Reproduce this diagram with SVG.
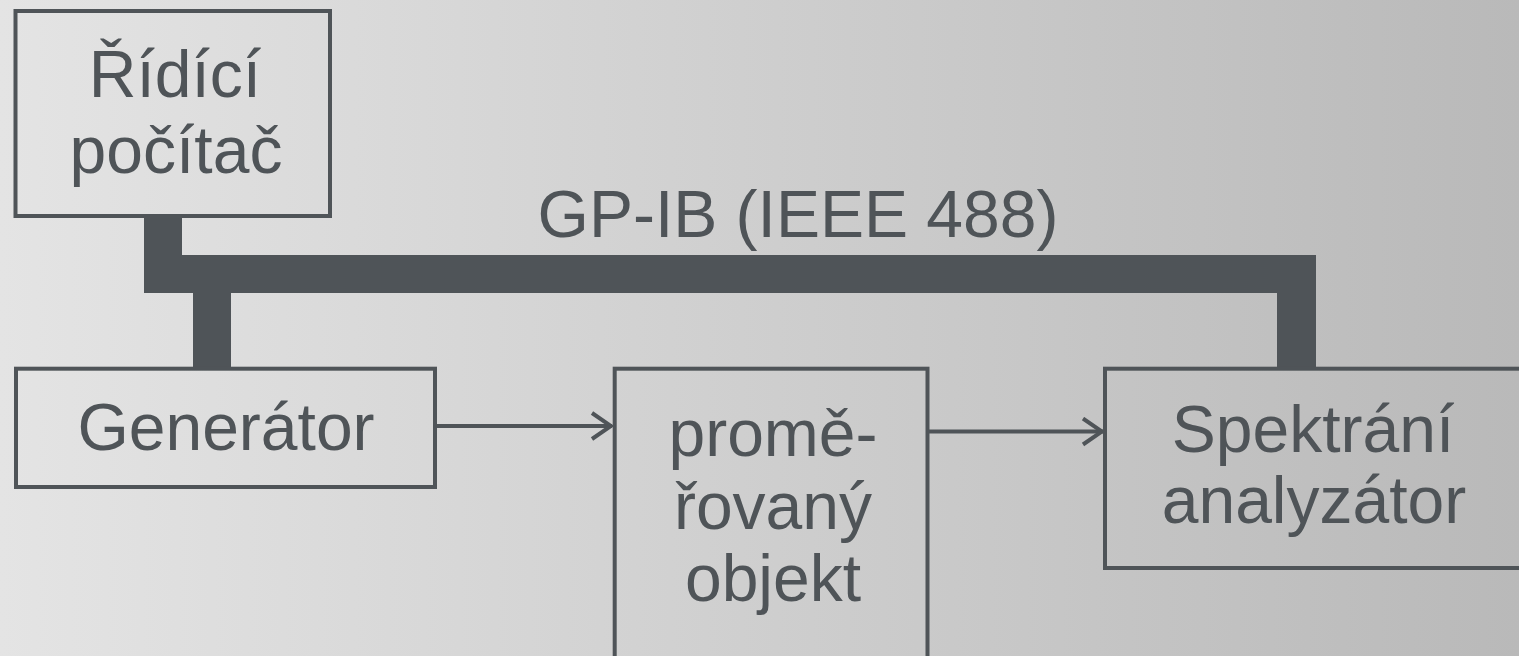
<svg xmlns="http://www.w3.org/2000/svg" width="1519" height="656" viewBox="0 0 1519 656">
  <defs>
    <linearGradient id="bg" x1="0" y1="0" x2="1" y2="0">
      <stop offset="0" stop-color="#e4e4e4"/>
      <stop offset="1" stop-color="#b9b9b9"/>
    </linearGradient>
    <marker id="arr" viewBox="0 0 24 30" refX="22" refY="15" markerWidth="24" markerHeight="30" markerUnits="userSpaceOnUse" orient="auto">
      <polyline points="2,2 21,15 2,28" fill="none" stroke="#4f5458" stroke-width="4"/>
    </marker>
    <style>
      .box { fill: none; stroke: #4f5458; stroke-width: 4; }
      .lbl { font-family: "Liberation Sans", Arial, sans-serif; font-size: 66px; fill: #4f5458; text-anchor: middle; }
      .wire { stroke: #4f5458; stroke-width: 4; fill: none; }
    </style>
  </defs>
  <rect x="0" y="0" width="1519" height="656" fill="url(#bg)"/>

  <g id="connectors">
    <path id="bus" d="M144,216 L182,216 L182,255 L1316,255 L1316,368 L1277,368 L1277,293 L231,293 L231,368 L193,368 L193,293 L144,293 Z" fill="#4f5458"/>
    <line class="wire" x1="437" y1="426" x2="612" y2="426" marker-end="url(#arr)"/>
    <line class="wire" x1="929" y1="431.5" x2="1103" y2="431.5" marker-end="url(#arr)"/>
  </g>

  <g id="node-ridici">
    <rect class="box" x="15.5" y="11" width="314.5" height="205"/>
    <text class="lbl" x="175" y="97">Řídící</text>
    <text class="lbl" x="176" y="173">počítač</text>
  </g>

  <g id="label-bus">
    <text class="lbl" x="798" y="237">GP-IB (IEEE 488)</text>
  </g>

  <g id="node-generator">
    <rect class="box" x="16" y="368.7" width="419" height="118.3"/>
    <text class="lbl" x="226" y="450">Generátor</text>
  </g>

  <g id="node-objekt">
    <rect class="box" x="614.7" y="368.7" width="312.8" height="300"/>
    <text class="lbl" x="773" y="456">promě-</text>
    <text class="lbl" x="773" y="529">řovaný</text>
    <text class="lbl" x="773" y="601">objekt</text>
  </g>

  <g id="node-spektralni">
    <rect class="box" x="1105" y="368.7" width="420" height="199.3"/>
    <text class="lbl" x="1313" y="452">Spektrání</text>
    <text class="lbl" x="1314" y="523">analyzátor</text>
  </g>
</svg>
